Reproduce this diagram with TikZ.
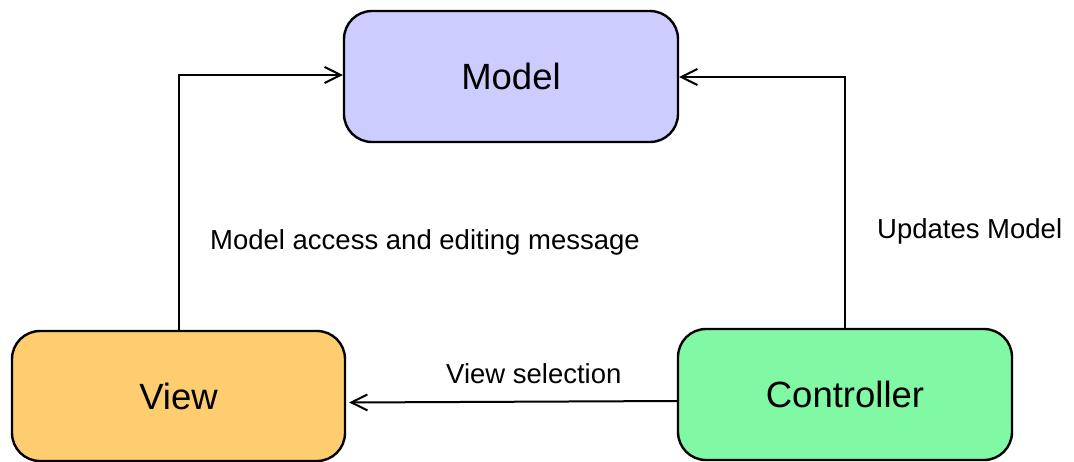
\documentclass[tikz,border=0pt]{standalone}
\usepackage{fontspec}
\setmainfont{Liberation Sans}
\usetikzlibrary{arrows.meta}

\definecolor{modelfill}{RGB}{204,204,255}
\definecolor{viewfill}{RGB}{254,205,112}
\definecolor{ctrlfill}{RGB}{128,248,164}

\tikzset{
  mvcbox/.style={draw=black, line width=2.4pt, rounded corners=28pt,
    minimum width=334pt, minimum height=131pt, inner sep=0pt,
    font=\fontsize{36.5}{40}\selectfont},
  link/.style={draw=black, line width=2pt,
    -{Straight Barb[length=16pt,width=16pt,line width=2pt]}},
  msg/.style={inner sep=0pt, anchor=base west, font=\fontsize{27.5}{30}\selectfont}
}

\begin{document}
\begin{tikzpicture}[x=1pt, y=-1pt]
  \useasboundingbox (0,0) rectangle (1074,461);

  % the three MVC components
  \node[mvcbox, fill=modelfill] (model) at (511,76.5) {Model};
  \node[mvcbox, fill=viewfill, minimum width=333pt, minimum height=130pt] (view) at (178.5,396) {View};
  \node[mvcbox, fill=ctrlfill] (ctrl) at (845,394.5) {Controller};

  % connectors between them
  \draw[link] (view.north) |- ([yshift=1.5pt]model.west);
  \draw[link] (ctrl.north) |- ([yshift=-0.5pt]model.east);
  \draw[link] ([yshift=-6.5pt]ctrl.west) -- ([yshift=-6.5pt,xshift=3pt]view.east);

  % message labels
  \node[msg] (lblaccess) at (210,249) {Model access and editing message};
  \node[msg] (lblupdate) at (877,238) {Updates Model};
  \node[msg] (lblselect) at (446,383) {View selection};
\end{tikzpicture}
\end{document}
